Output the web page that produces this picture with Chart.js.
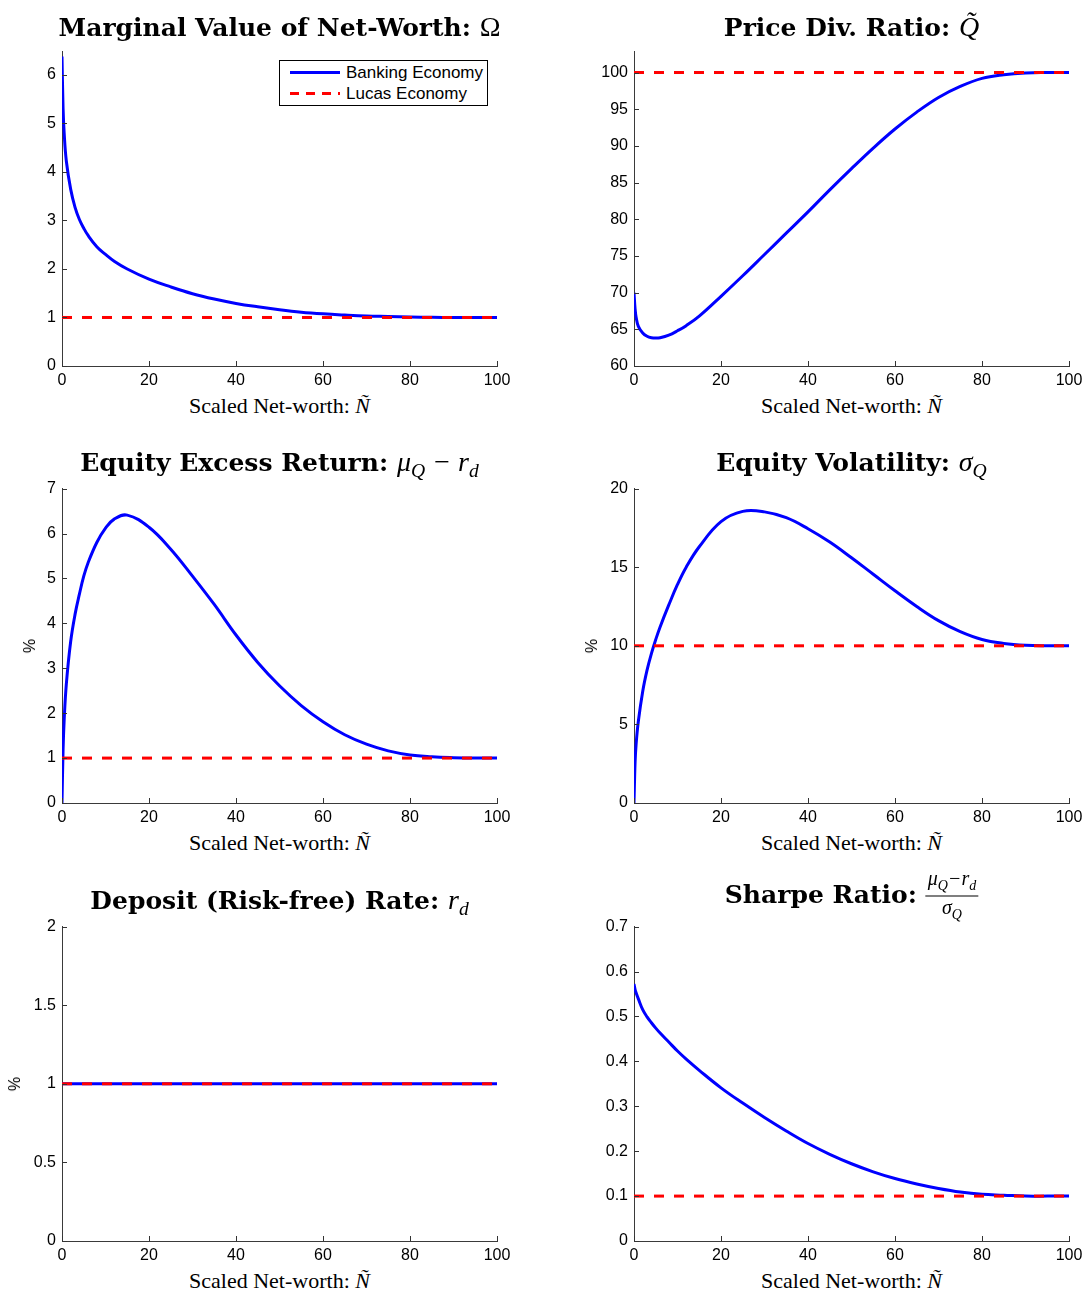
<!DOCTYPE html>
<html>
<head>
<meta charset="utf-8">
<script src="https://cdn.jsdelivr.net/npm/chart.js@4.4.0/dist/chart.umd.min.js"></script>
<style>
body { margin:0; background:#fff; width:1084px; height:1292px; position:relative; overflow:hidden; }
canvas { position:absolute; }
.ttl { position:absolute; font-family:"DejaVu Serif", serif; font-weight:bold; font-size:25px; white-space:nowrap; transform:translate(-50%,-50%); color:#000; }
.ttl .m { font-family:"Liberation Serif", serif; font-weight:normal; font-size:28px; }
.ttl i { font-family:"Liberation Serif", serif; font-weight:normal; }
.ttl sub { font-size:0.7em; }
.frac { display:inline-block; vertical-align:middle; text-align:center; font-family:"Liberation Serif", serif; font-weight:normal; font-size:20px; line-height:19px; }
.frac .num { display:block; border-bottom:1px solid #000; padding:0 2px 1px; }
.frac .den { display:block; padding-top:1px; }
.xl { position:absolute; font-family:"Liberation Serif", serif; font-size:22px; white-space:nowrap; transform:translate(-50%,-50%); }
.yl { position:absolute; font-family:"Liberation Sans", sans-serif; font-size:16px; transform:translate(-50%,-50%) rotate(-90deg); }
#legend { position:absolute; left:279px; top:60px; width:207px; height:44px; border:1px solid #000; background:#fff; font-family:"Liberation Sans", sans-serif; font-size:17px; }
#legend .row { position:absolute; left:10px; height:22px; line-height:22px; }
#legend .sw { position:absolute; left:0; top:9px; width:50px; height:3px; }
#legend .lb { position:absolute; left:56px; white-space:nowrap; }
</style>
</head>
<body>
<script>
// scaled net-worth grid
const xGrid = [0, 0.25, 0.5, 1, 2, 3, 4, 5, 6, 8, 10, 12, 15, 20, 25, 30, 35, 40, 45, 50, 55, 60, 65, 70, 75, 80, 85, 90, 95, 100];
const xEnds = [0, 100];
const xTicks = [0, 20, 40, 60, 80, 100];

// banking economy
const omegaBank  = [6.38, 5.3, 4.8, 4.22, 3.64, 3.27, 3.02, 2.84, 2.69, 2.46, 2.3, 2.16, 2.0, 1.79, 1.63, 1.49, 1.38, 1.29, 1.22, 1.16, 1.11, 1.075, 1.05, 1.03, 1.02, 1.01, 1.005, 1.0, 1.0, 1.0];
const qBank      = [70, 67.8, 66.6, 65.4, 64.5, 64.05, 63.85, 63.8, 63.85, 64.2, 64.8, 65.5, 66.8, 69.5, 72.3, 75.2, 78.1, 81.0, 84.0, 86.9, 89.7, 92.3, 94.6, 96.6, 98.1, 99.2, 99.7, 99.95, 100, 100];
const excessBank = [0, 1.2, 1.85, 2.65, 3.6, 4.2, 4.65, 5.05, 5.35, 5.8, 6.12, 6.32, 6.41, 6.14, 5.65, 5.05, 4.42, 3.74, 3.13, 2.61, 2.17, 1.81, 1.52, 1.31, 1.16, 1.07, 1.03, 1.01, 1.0, 1.0];
const volBank    = [0, 2.6, 3.8, 5.2, 7.1, 8.45, 9.5, 10.4, 11.2, 12.6, 13.9, 15.0, 16.3, 17.9, 18.55, 18.52, 18.15, 17.45, 16.6, 15.6, 14.55, 13.5, 12.5, 11.6, 10.9, 10.4, 10.15, 10.03, 10.0, 10.0];
const rdBank     = [1, 1, 1, 1, 1, 1, 1, 1, 1, 1, 1, 1, 1, 1, 1, 1, 1, 1, 1, 1, 1, 1, 1, 1, 1, 1, 1, 1, 1, 1];
const sharpeBank = [0.572, 0.56, 0.552, 0.539, 0.515, 0.499, 0.486, 0.474, 0.463, 0.443, 0.423, 0.405, 0.38, 0.341, 0.307, 0.275, 0.245, 0.217, 0.193, 0.172, 0.154, 0.139, 0.127, 0.117, 0.109, 0.104, 0.102, 0.1, 0.1, 0.1];

// lucas economy (flat)
const omegaLucas  = [1, 1];
const qLucas      = [100, 100];
const excessLucas = [1, 1];
const volLucas    = [10, 10];
const rdLucas     = [1, 1];
const sharpeLucas = [0.1, 0.1];

// y ticks
const omegaTicks  = [0, 1, 2, 3, 4, 5, 6];
const qTicks      = [60, 65, 70, 75, 80, 85, 90, 95, 100];
const excessTicks = [0, 1, 2, 3, 4, 5, 6, 7];
const volTicks    = [0, 5, 10, 15, 20];
const rdTicks     = [0, 0.5, 1, 1.5, 2];
const sharpeTicks = [0, 0.1, 0.2, 0.3, 0.4, 0.5, 0.6, 0.7];

const xLabel = 'Scaled Net-worth: <i>Ñ</i>';

const panels = [
  { left: 62,  top: 51,  bank: omegaBank,  lucas: omegaLucas,  yMin: 0,  yMax: 6.48,  ticks: omegaTicks,
    title: 'Marginal Value of Net-Worth: <span class="m">Ω</span>', pct: false },
  { left: 634, top: 51,  bank: qBank,      lucas: qLucas,      yMin: 60, yMax: 102.85, ticks: qTicks,
    title: 'Price Div. Ratio: <i class="m">Q̃</i>', pct: false },
  { left: 62,  top: 488, bank: excessBank, lucas: excessLucas, yMin: 0,  yMax: 7,    ticks: excessTicks,
    title: 'Equity Excess Return: <i class="m">μ<sub>Q</sub> − r<sub>d</sub></i>', pct: true, pctX: 30 },
  { left: 634, top: 488, bank: volBank,    lucas: volLucas,    yMin: 0,  yMax: 20,   ticks: volTicks,
    title: 'Equity Volatility: <i class="m">σ<sub>Q</sub></i>', pct: true, pctX: 592 },
  { left: 62,  top: 926, bank: rdBank,     lucas: rdLucas,     yMin: 0,  yMax: 2,    ticks: rdTicks,
    title: 'Deposit (Risk-free) Rate: <i class="m">r<sub>d</sub></i>', pct: true, pctX: 15 },
  { left: 634, top: 926, bank: sharpeBank, lucas: sharpeLucas, yMin: 0,  yMax: 0.7,  ticks: sharpeTicks,
    title: 'Sharpe Ratio: <span class="frac"><span class="num"><i>μ<sub>Q</sub>−r<sub>d</sub></i></span><span class="den"><i>σ<sub>Q</sub></i></span></span>', pct: false, titleDy: -6 }
];

const plotW = 435, plotH = 315;

// MATLAB style inward tick marks
const inTicks = {
  id: 'inTicks',
  afterDraw(chart) {
    const ctx = chart.ctx, a = chart.chartArea, sx = chart.scales.x, sy = chart.scales.y;
    ctx.save();
    ctx.strokeStyle = '#333';
    ctx.lineWidth = 1;
    sx.ticks.forEach(t => {
      const px = Math.round(sx.getPixelForValue(t.value)) + 0.5;
      ctx.beginPath(); ctx.moveTo(px, a.bottom); ctx.lineTo(px, a.bottom - 5); ctx.stroke();
    });
    sy.ticks.forEach(t => {
      const py = Math.round(sy.getPixelForValue(t.value)) + 0.5;
      ctx.beginPath(); ctx.moveTo(a.left, py); ctx.lineTo(a.left + 5, py); ctx.stroke();
    });
    ctx.restore();
  }
};

function addText(cls, html, x, y) {
  const d = document.createElement('div');
  d.className = cls;
  d.innerHTML = html;
  d.style.left = x + 'px';
  d.style.top = y + 'px';
  document.body.appendChild(d);
}

panels.forEach(p => {
  const cv = document.createElement('canvas');
  cv.width = plotW + 80; cv.height = plotH + 40;
  cv.style.left = (p.left - 60) + 'px';
  cv.style.top = (p.top - 15) + 'px';
  document.body.appendChild(cv);

  const tickFont = { family: 'Liberation Sans', size: 16 };
  new Chart(cv, {
    type: 'line',
    data: {
      datasets: [
        { label: 'Lucas Economy', data: xEnds.map((x, i) => ({ x: x, y: p.lucas[i] })),
          borderColor: '#ff0000', borderWidth: 3, borderDash: [10, 10], pointRadius: 0, order: 0 },
        { label: 'Banking Economy', data: xGrid.map((x, i) => ({ x: x, y: p.bank[i] })),
          borderColor: '#0000ff', borderWidth: 3, pointRadius: 0, tension: 0.4, order: 1 }
      ]
    },
    options: {
      responsive: false, animation: false,
      layout: { padding: { left: 0, top: 15, right: 20, bottom: 0 } },
      plugins: { legend: { display: false }, tooltip: { enabled: false } },
      scales: {
        x: {
          type: 'linear', min: 0, max: 100,
          afterBuildTicks: s => { s.ticks = xTicks.map(v => ({ value: v })); },
          afterFit: s => { s.height = 25; },
          grid: { display: true, drawOnChartArea: false, drawTicks: false },
          border: { color: '#3a3a3a', width: 1 },
          ticks: { font: tickFont, color: '#000', padding: 5, maxRotation: 0, callback: v => String(v) }
        },
        y: {
          type: 'linear', min: p.yMin, max: p.yMax,
          afterBuildTicks: s => { s.ticks = p.ticks.map(v => ({ value: v })); },
          afterFit: s => { s.width = 60; },
          grid: { display: true, drawOnChartArea: false, drawTicks: false },
          border: { color: '#3a3a3a', width: 1 },
          ticks: { font: tickFont, color: '#000', padding: 6, callback: v => String(v) }
        }
      }
    },
    plugins: [inTicks]
  });

  addText('ttl', p.title, p.left + plotW / 2, p.top - 24 + (p.titleDy || 0));
  addText('xl', xLabel, p.left + plotW / 2, p.top + plotH + 40);
  if (p.pct) addText('yl', '%', p.pctX, p.top + plotH / 2);
});

// legend of the first panel
const lg = document.createElement('div');
lg.id = 'legend';
lg.innerHTML =
  '<div class="row" style="top:1px"><span class="sw" style="background:#0000ff"></span><span class="lb">Banking Economy</span></div>' +
  '<div class="row" style="top:22px"><span class="sw" style="background:repeating-linear-gradient(90deg,#ff0000 0 9px,transparent 9px 16px)"></span><span class="lb">Lucas Economy</span></div>';
document.body.appendChild(lg);
</script>
</body>
</html>
